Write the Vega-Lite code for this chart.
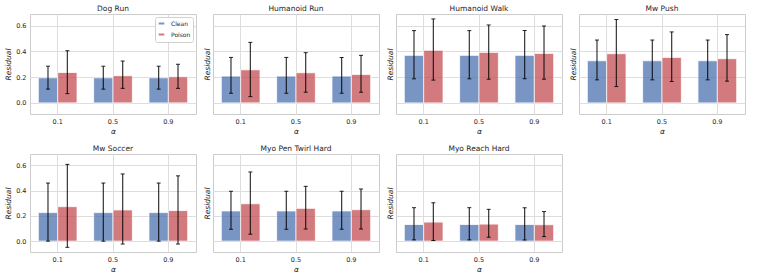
{
  "$schema": "https://vega.github.io/schema/vega-lite/v6.json",
  "padding": {"left": 4, "top": 4, "right": 4, "bottom": 2},
  "background": "white",
  "data": {"values": [
    {"env": "Dog Run", "alpha": "0.1", "type": "Clean", "mean": 0.195, "lo": 0.107, "hi": 0.285},
    {"env": "Dog Run", "alpha": "0.5", "type": "Clean", "mean": 0.195, "lo": 0.107, "hi": 0.285},
    {"env": "Dog Run", "alpha": "0.9", "type": "Clean", "mean": 0.195, "lo": 0.107, "hi": 0.285},
    {"env": "Dog Run", "alpha": "0.1", "type": "Poison", "mean": 0.236, "lo": 0.072, "hi": 0.405},
    {"env": "Dog Run", "alpha": "0.5", "type": "Poison", "mean": 0.211, "lo": 0.113, "hi": 0.325},
    {"env": "Dog Run", "alpha": "0.9", "type": "Poison", "mean": 0.203, "lo": 0.113, "hi": 0.300},
    {"env": "Humanoid Run", "alpha": "0.1", "type": "Clean", "mean": 0.208, "lo": 0.075, "hi": 0.353},
    {"env": "Humanoid Run", "alpha": "0.5", "type": "Clean", "mean": 0.208, "lo": 0.075, "hi": 0.353},
    {"env": "Humanoid Run", "alpha": "0.9", "type": "Clean", "mean": 0.208, "lo": 0.075, "hi": 0.353},
    {"env": "Humanoid Run", "alpha": "0.1", "type": "Poison", "mean": 0.257, "lo": 0.049, "hi": 0.470},
    {"env": "Humanoid Run", "alpha": "0.5", "type": "Poison", "mean": 0.234, "lo": 0.083, "hi": 0.390},
    {"env": "Humanoid Run", "alpha": "0.9", "type": "Poison", "mean": 0.221, "lo": 0.083, "hi": 0.369},
    {"env": "Humanoid Walk", "alpha": "0.1", "type": "Clean", "mean": 0.369, "lo": 0.187, "hi": 0.561},
    {"env": "Humanoid Walk", "alpha": "0.5", "type": "Clean", "mean": 0.369, "lo": 0.187, "hi": 0.561},
    {"env": "Humanoid Walk", "alpha": "0.9", "type": "Clean", "mean": 0.369, "lo": 0.187, "hi": 0.561},
    {"env": "Humanoid Walk", "alpha": "0.1", "type": "Poison", "mean": 0.408, "lo": 0.177, "hi": 0.652},
    {"env": "Humanoid Walk", "alpha": "0.5", "type": "Poison", "mean": 0.392, "lo": 0.184, "hi": 0.605},
    {"env": "Humanoid Walk", "alpha": "0.9", "type": "Poison", "mean": 0.384, "lo": 0.184, "hi": 0.597},
    {"env": "Mw Push", "alpha": "0.1", "type": "Clean", "mean": 0.327, "lo": 0.179, "hi": 0.488},
    {"env": "Mw Push", "alpha": "0.5", "type": "Clean", "mean": 0.327, "lo": 0.179, "hi": 0.488},
    {"env": "Mw Push", "alpha": "0.9", "type": "Clean", "mean": 0.327, "lo": 0.179, "hi": 0.488},
    {"env": "Mw Push", "alpha": "0.1", "type": "Poison", "mean": 0.382, "lo": 0.127, "hi": 0.647},
    {"env": "Mw Push", "alpha": "0.5", "type": "Poison", "mean": 0.353, "lo": 0.166, "hi": 0.551},
    {"env": "Mw Push", "alpha": "0.9", "type": "Poison", "mean": 0.343, "lo": 0.169, "hi": 0.530},
    {"env": "Mw Soccer", "alpha": "0.1", "type": "Clean", "mean": 0.226, "lo": 0.0, "hi": 0.460},
    {"env": "Mw Soccer", "alpha": "0.5", "type": "Clean", "mean": 0.226, "lo": 0.0, "hi": 0.460},
    {"env": "Mw Soccer", "alpha": "0.9", "type": "Clean", "mean": 0.226, "lo": 0.0, "hi": 0.460},
    {"env": "Mw Soccer", "alpha": "0.1", "type": "Poison", "mean": 0.273, "lo": -0.049, "hi": 0.608},
    {"env": "Mw Soccer", "alpha": "0.5", "type": "Poison", "mean": 0.247, "lo": -0.023, "hi": 0.532},
    {"env": "Mw Soccer", "alpha": "0.9", "type": "Poison", "mean": 0.242, "lo": -0.023, "hi": 0.517},
    {"env": "Myo Pen Twirl Hard", "alpha": "0.1", "type": "Clean", "mean": 0.239, "lo": 0.094, "hi": 0.395},
    {"env": "Myo Pen Twirl Hard", "alpha": "0.5", "type": "Clean", "mean": 0.239, "lo": 0.094, "hi": 0.395},
    {"env": "Myo Pen Twirl Hard", "alpha": "0.9", "type": "Clean", "mean": 0.239, "lo": 0.094, "hi": 0.395},
    {"env": "Myo Pen Twirl Hard", "alpha": "0.1", "type": "Poison", "mean": 0.296, "lo": 0.055, "hi": 0.548},
    {"env": "Myo Pen Twirl Hard", "alpha": "0.5", "type": "Poison", "mean": 0.260, "lo": 0.096, "hi": 0.434},
    {"env": "Myo Pen Twirl Hard", "alpha": "0.9", "type": "Poison", "mean": 0.249, "lo": 0.096, "hi": 0.413},
    {"env": "Myo Reach Hard", "alpha": "0.1", "type": "Clean", "mean": 0.132, "lo": 0.010, "hi": 0.265},
    {"env": "Myo Reach Hard", "alpha": "0.5", "type": "Clean", "mean": 0.132, "lo": 0.010, "hi": 0.265},
    {"env": "Myo Reach Hard", "alpha": "0.9", "type": "Clean", "mean": 0.132, "lo": 0.010, "hi": 0.265},
    {"env": "Myo Reach Hard", "alpha": "0.1", "type": "Poison", "mean": 0.151, "lo": 0.005, "hi": 0.304},
    {"env": "Myo Reach Hard", "alpha": "0.5", "type": "Poison", "mean": 0.135, "lo": 0.031, "hi": 0.252},
    {"env": "Myo Reach Hard", "alpha": "0.9", "type": "Poison", "mean": 0.130, "lo": 0.036, "hi": 0.234}
  ]},
  "columns": 4,
  "spacing": {"row": 40, "column": 17},
  "bounds": "flush",
  "resolve": {"legend": {"color": "independent"}},
  "concat": [
    {
      "title": {"text": "Dog Run", "fontWeight": "normal"},
      "width": 166, "height": 100,
      "transform": [{"filter": "datum.env === 'Dog Run'"}],
      "encoding": {
        "x": {"field": "alpha", "type": "nominal", "sort": ["0.1", "0.5", "0.9"], "scale": {"paddingInner": 0.3, "paddingOuter": 0.15}, "axis": {"title": "α", "labelAngle": 0, "grid": true, "bandPosition": 0.5}},
        "xOffset": {"field": "type", "type": "nominal", "sort": ["Clean", "Poison"], "scale": {"paddingInner": 0, "paddingOuter": 0}}
      },
      "layer": [
        {"mark": {"type": "bar", "opacity": 0.75, "stroke": "white", "strokeWidth": 0.8},
         "encoding": {
           "y": {"field": "mean", "type": "quantitative", "scale": {"domain": [-0.086, 0.69], "nice": false, "zero": false}, "axis": {"title": "Residual", "values": [0, 0.2, 0.4, 0.6], "format": ".1f", "grid": true, "labelOverlap": false}},
           "color": {"field": "type", "type": "nominal", "scale": {"domain": ["Clean", "Poison"], "range": ["#4c72b0", "#c44e52"]},
             "legend": {"orient": "top-right", "title": null, "offset": 3, "fillColor": "white", "strokeColor": "#d0d0d0", "padding": 2, "cornerRadius": 2, "symbolType": "M-1,-0.5H1V0.5H-1Z", "symbolSize": 50, "symbolOpacity": 0.75, "labelFontSize": 6, "rowPadding": 0, "labelOffset": 5}}
         }},
        {"mark": {"type": "rule", "color": "black", "opacity": 0.8, "strokeWidth": 1.2}, "encoding": {"y": {"field": "lo", "type": "quantitative", "axis": {"title": "Residual", "values": [0, 0.2, 0.4, 0.6], "format": ".1f", "grid": true, "labelOverlap": false}}, "y2": {"field": "hi"}}},
        {"mark": {"type": "tick", "color": "black", "size": 4, "thickness": 1, "opacity": 0.85}, "encoding": {"y": {"field": "lo", "type": "quantitative", "axis": {"title": "Residual", "values": [0, 0.2, 0.4, 0.6], "format": ".1f", "grid": true, "labelOverlap": false}}}},
        {"mark": {"type": "tick", "color": "black", "size": 4, "thickness": 1, "opacity": 0.85}, "encoding": {"y": {"field": "hi", "type": "quantitative", "axis": {"title": "Residual", "values": [0, 0.2, 0.4, 0.6], "format": ".1f", "grid": true, "labelOverlap": false}}}}
      ]
    },
    {
      "title": {"text": "Humanoid Run", "fontWeight": "normal"},
      "width": 166, "height": 100,
      "transform": [{"filter": "datum.env === 'Humanoid Run'"}],
      "encoding": {
        "x": {"field": "alpha", "type": "nominal", "sort": ["0.1", "0.5", "0.9"], "scale": {"paddingInner": 0.3, "paddingOuter": 0.15}, "axis": {"title": "α", "labelAngle": 0, "grid": true, "bandPosition": 0.5}},
        "xOffset": {"field": "type", "type": "nominal", "sort": ["Clean", "Poison"], "scale": {"paddingInner": 0, "paddingOuter": 0}}
      },
      "layer": [
        {"mark": {"type": "bar", "opacity": 0.75, "stroke": "white", "strokeWidth": 0.8},
         "encoding": {
           "y": {"field": "mean", "type": "quantitative", "scale": {"domain": [-0.086, 0.69], "nice": false, "zero": false}, "axis": {"title": "Residual", "values": [0, 0.2, 0.4, 0.6], "labels": false, "titlePadding": 2, "grid": true}},
           "color": {"field": "type", "type": "nominal", "scale": {"domain": ["Clean", "Poison"], "range": ["#4c72b0", "#c44e52"]}, "legend": null}
         }},
        {"mark": {"type": "rule", "color": "black", "opacity": 0.8, "strokeWidth": 1.2}, "encoding": {"y": {"field": "lo", "type": "quantitative", "axis": {"title": "Residual", "values": [0, 0.2, 0.4, 0.6], "labels": false, "titlePadding": 2, "grid": true}}, "y2": {"field": "hi"}}},
        {"mark": {"type": "tick", "color": "black", "size": 4, "thickness": 1, "opacity": 0.85}, "encoding": {"y": {"field": "lo", "type": "quantitative", "axis": {"title": "Residual", "values": [0, 0.2, 0.4, 0.6], "labels": false, "titlePadding": 2, "grid": true}}}},
        {"mark": {"type": "tick", "color": "black", "size": 4, "thickness": 1, "opacity": 0.85}, "encoding": {"y": {"field": "hi", "type": "quantitative", "axis": {"title": "Residual", "values": [0, 0.2, 0.4, 0.6], "labels": false, "titlePadding": 2, "grid": true}}}}
      ]
    },
    {
      "title": {"text": "Humanoid Walk", "fontWeight": "normal"},
      "width": 166, "height": 100,
      "transform": [{"filter": "datum.env === 'Humanoid Walk'"}],
      "encoding": {
        "x": {"field": "alpha", "type": "nominal", "sort": ["0.1", "0.5", "0.9"], "scale": {"paddingInner": 0.3, "paddingOuter": 0.15}, "axis": {"title": "α", "labelAngle": 0, "grid": true, "bandPosition": 0.5}},
        "xOffset": {"field": "type", "type": "nominal", "sort": ["Clean", "Poison"], "scale": {"paddingInner": 0, "paddingOuter": 0}}
      },
      "layer": [
        {"mark": {"type": "bar", "opacity": 0.75, "stroke": "white", "strokeWidth": 0.8},
         "encoding": {
           "y": {"field": "mean", "type": "quantitative", "scale": {"domain": [-0.086, 0.69], "nice": false, "zero": false}, "axis": {"title": "Residual", "values": [0, 0.2, 0.4, 0.6], "labels": false, "titlePadding": 2, "grid": true}},
           "color": {"field": "type", "type": "nominal", "scale": {"domain": ["Clean", "Poison"], "range": ["#4c72b0", "#c44e52"]}, "legend": null}
         }},
        {"mark": {"type": "rule", "color": "black", "opacity": 0.8, "strokeWidth": 1.2}, "encoding": {"y": {"field": "lo", "type": "quantitative", "axis": {"title": "Residual", "values": [0, 0.2, 0.4, 0.6], "labels": false, "titlePadding": 2, "grid": true}}, "y2": {"field": "hi"}}},
        {"mark": {"type": "tick", "color": "black", "size": 4, "thickness": 1, "opacity": 0.85}, "encoding": {"y": {"field": "lo", "type": "quantitative", "axis": {"title": "Residual", "values": [0, 0.2, 0.4, 0.6], "labels": false, "titlePadding": 2, "grid": true}}}},
        {"mark": {"type": "tick", "color": "black", "size": 4, "thickness": 1, "opacity": 0.85}, "encoding": {"y": {"field": "hi", "type": "quantitative", "axis": {"title": "Residual", "values": [0, 0.2, 0.4, 0.6], "labels": false, "titlePadding": 2, "grid": true}}}}
      ]
    },
    {
      "title": {"text": "Mw Push", "fontWeight": "normal"},
      "width": 166, "height": 100,
      "transform": [{"filter": "datum.env === 'Mw Push'"}],
      "encoding": {
        "x": {"field": "alpha", "type": "nominal", "sort": ["0.1", "0.5", "0.9"], "scale": {"paddingInner": 0.3, "paddingOuter": 0.15}, "axis": {"title": "α", "labelAngle": 0, "grid": true, "bandPosition": 0.5}},
        "xOffset": {"field": "type", "type": "nominal", "sort": ["Clean", "Poison"], "scale": {"paddingInner": 0, "paddingOuter": 0}}
      },
      "layer": [
        {"mark": {"type": "bar", "opacity": 0.75, "stroke": "white", "strokeWidth": 0.8},
         "encoding": {
           "y": {"field": "mean", "type": "quantitative", "scale": {"domain": [-0.086, 0.69], "nice": false, "zero": false}, "axis": {"title": "Residual", "values": [0, 0.2, 0.4, 0.6], "labels": false, "titlePadding": 2, "grid": true}},
           "color": {"field": "type", "type": "nominal", "scale": {"domain": ["Clean", "Poison"], "range": ["#4c72b0", "#c44e52"]}, "legend": null}
         }},
        {"mark": {"type": "rule", "color": "black", "opacity": 0.8, "strokeWidth": 1.2}, "encoding": {"y": {"field": "lo", "type": "quantitative", "axis": {"title": "Residual", "values": [0, 0.2, 0.4, 0.6], "labels": false, "titlePadding": 2, "grid": true}}, "y2": {"field": "hi"}}},
        {"mark": {"type": "tick", "color": "black", "size": 4, "thickness": 1, "opacity": 0.85}, "encoding": {"y": {"field": "lo", "type": "quantitative", "axis": {"title": "Residual", "values": [0, 0.2, 0.4, 0.6], "labels": false, "titlePadding": 2, "grid": true}}}},
        {"mark": {"type": "tick", "color": "black", "size": 4, "thickness": 1, "opacity": 0.85}, "encoding": {"y": {"field": "hi", "type": "quantitative", "axis": {"title": "Residual", "values": [0, 0.2, 0.4, 0.6], "labels": false, "titlePadding": 2, "grid": true}}}}
      ]
    },
    {
      "title": {"text": "Mw Soccer", "fontWeight": "normal"},
      "width": 166, "height": 98,
      "transform": [{"filter": "datum.env === 'Mw Soccer'"}],
      "encoding": {
        "x": {"field": "alpha", "type": "nominal", "sort": ["0.1", "0.5", "0.9"], "scale": {"paddingInner": 0.3, "paddingOuter": 0.15}, "axis": {"title": "α", "labelAngle": 0, "grid": true, "bandPosition": 0.5}},
        "xOffset": {"field": "type", "type": "nominal", "sort": ["Clean", "Poison"], "scale": {"paddingInner": 0, "paddingOuter": 0}}
      },
      "layer": [
        {"mark": {"type": "bar", "opacity": 0.75, "stroke": "white", "strokeWidth": 0.8},
         "encoding": {
           "y": {"field": "mean", "type": "quantitative", "scale": {"domain": [-0.086, 0.69], "nice": false, "zero": false}, "axis": {"title": "Residual", "values": [0, 0.2, 0.4, 0.6], "format": ".1f", "grid": true, "labelOverlap": false}},
           "color": {"field": "type", "type": "nominal", "scale": {"domain": ["Clean", "Poison"], "range": ["#4c72b0", "#c44e52"]}, "legend": null}
         }},
        {"mark": {"type": "rule", "color": "black", "opacity": 0.8, "strokeWidth": 1.2}, "encoding": {"y": {"field": "lo", "type": "quantitative", "axis": {"title": "Residual", "values": [0, 0.2, 0.4, 0.6], "format": ".1f", "grid": true, "labelOverlap": false}}, "y2": {"field": "hi"}}},
        {"mark": {"type": "tick", "color": "black", "size": 4, "thickness": 1, "opacity": 0.85}, "encoding": {"y": {"field": "lo", "type": "quantitative", "axis": {"title": "Residual", "values": [0, 0.2, 0.4, 0.6], "format": ".1f", "grid": true, "labelOverlap": false}}}},
        {"mark": {"type": "tick", "color": "black", "size": 4, "thickness": 1, "opacity": 0.85}, "encoding": {"y": {"field": "hi", "type": "quantitative", "axis": {"title": "Residual", "values": [0, 0.2, 0.4, 0.6], "format": ".1f", "grid": true, "labelOverlap": false}}}}
      ]
    },
    {
      "title": {"text": "Myo Pen Twirl Hard", "fontWeight": "normal"},
      "width": 166, "height": 98,
      "transform": [{"filter": "datum.env === 'Myo Pen Twirl Hard'"}],
      "encoding": {
        "x": {"field": "alpha", "type": "nominal", "sort": ["0.1", "0.5", "0.9"], "scale": {"paddingInner": 0.3, "paddingOuter": 0.15}, "axis": {"title": "α", "labelAngle": 0, "grid": true, "bandPosition": 0.5}},
        "xOffset": {"field": "type", "type": "nominal", "sort": ["Clean", "Poison"], "scale": {"paddingInner": 0, "paddingOuter": 0}}
      },
      "layer": [
        {"mark": {"type": "bar", "opacity": 0.75, "stroke": "white", "strokeWidth": 0.8},
         "encoding": {
           "y": {"field": "mean", "type": "quantitative", "scale": {"domain": [-0.086, 0.69], "nice": false, "zero": false}, "axis": {"title": "Residual", "values": [0, 0.2, 0.4, 0.6], "labels": false, "titlePadding": 2, "grid": true}},
           "color": {"field": "type", "type": "nominal", "scale": {"domain": ["Clean", "Poison"], "range": ["#4c72b0", "#c44e52"]}, "legend": null}
         }},
        {"mark": {"type": "rule", "color": "black", "opacity": 0.8, "strokeWidth": 1.2}, "encoding": {"y": {"field": "lo", "type": "quantitative", "axis": {"title": "Residual", "values": [0, 0.2, 0.4, 0.6], "labels": false, "titlePadding": 2, "grid": true}}, "y2": {"field": "hi"}}},
        {"mark": {"type": "tick", "color": "black", "size": 4, "thickness": 1, "opacity": 0.85}, "encoding": {"y": {"field": "lo", "type": "quantitative", "axis": {"title": "Residual", "values": [0, 0.2, 0.4, 0.6], "labels": false, "titlePadding": 2, "grid": true}}}},
        {"mark": {"type": "tick", "color": "black", "size": 4, "thickness": 1, "opacity": 0.85}, "encoding": {"y": {"field": "hi", "type": "quantitative", "axis": {"title": "Residual", "values": [0, 0.2, 0.4, 0.6], "labels": false, "titlePadding": 2, "grid": true}}}}
      ]
    },
    {
      "title": {"text": "Myo Reach Hard", "fontWeight": "normal"},
      "width": 166, "height": 98,
      "transform": [{"filter": "datum.env === 'Myo Reach Hard'"}],
      "encoding": {
        "x": {"field": "alpha", "type": "nominal", "sort": ["0.1", "0.5", "0.9"], "scale": {"paddingInner": 0.3, "paddingOuter": 0.15}, "axis": {"title": "α", "labelAngle": 0, "grid": true, "bandPosition": 0.5}},
        "xOffset": {"field": "type", "type": "nominal", "sort": ["Clean", "Poison"], "scale": {"paddingInner": 0, "paddingOuter": 0}}
      },
      "layer": [
        {"mark": {"type": "bar", "opacity": 0.75, "stroke": "white", "strokeWidth": 0.8},
         "encoding": {
           "y": {"field": "mean", "type": "quantitative", "scale": {"domain": [-0.086, 0.69], "nice": false, "zero": false}, "axis": {"title": "Residual", "values": [0, 0.2, 0.4, 0.6], "labels": false, "titlePadding": 2, "grid": true}},
           "color": {"field": "type", "type": "nominal", "scale": {"domain": ["Clean", "Poison"], "range": ["#4c72b0", "#c44e52"]}, "legend": null}
         }},
        {"mark": {"type": "rule", "color": "black", "opacity": 0.8, "strokeWidth": 1.2}, "encoding": {"y": {"field": "lo", "type": "quantitative", "axis": {"title": "Residual", "values": [0, 0.2, 0.4, 0.6], "labels": false, "titlePadding": 2, "grid": true}}, "y2": {"field": "hi"}}},
        {"mark": {"type": "tick", "color": "black", "size": 4, "thickness": 1, "opacity": 0.85}, "encoding": {"y": {"field": "lo", "type": "quantitative", "axis": {"title": "Residual", "values": [0, 0.2, 0.4, 0.6], "labels": false, "titlePadding": 2, "grid": true}}}},
        {"mark": {"type": "tick", "color": "black", "size": 4, "thickness": 1, "opacity": 0.85}, "encoding": {"y": {"field": "hi", "type": "quantitative", "axis": {"title": "Residual", "values": [0, 0.2, 0.4, 0.6], "labels": false, "titlePadding": 2, "grid": true}}}}
      ]
    }
  ],
  "config": {
    "font": "DejaVu Sans",
    "view": {"stroke": "#cccccc", "strokeWidth": 1},
    "title": {"fontSize": 7.5, "fontWeight": "normal", "color": "#262626", "offset": 2, "anchor": "middle"},
    "axis": {
      "labelFontSize": 6.5, "titleFontSize": 7.5, "titleFontWeight": "normal", "titleFontStyle": "italic",
      "labelColor": "#262626", "titleColor": "#262626", "gridColor": "#dddddd", "gridWidth": 1,
      "domain": false, "ticks": false, "labelPadding": 4, "titlePadding": 3
    },
    "legend": {"labelColor": "#262626"}
  }
}
